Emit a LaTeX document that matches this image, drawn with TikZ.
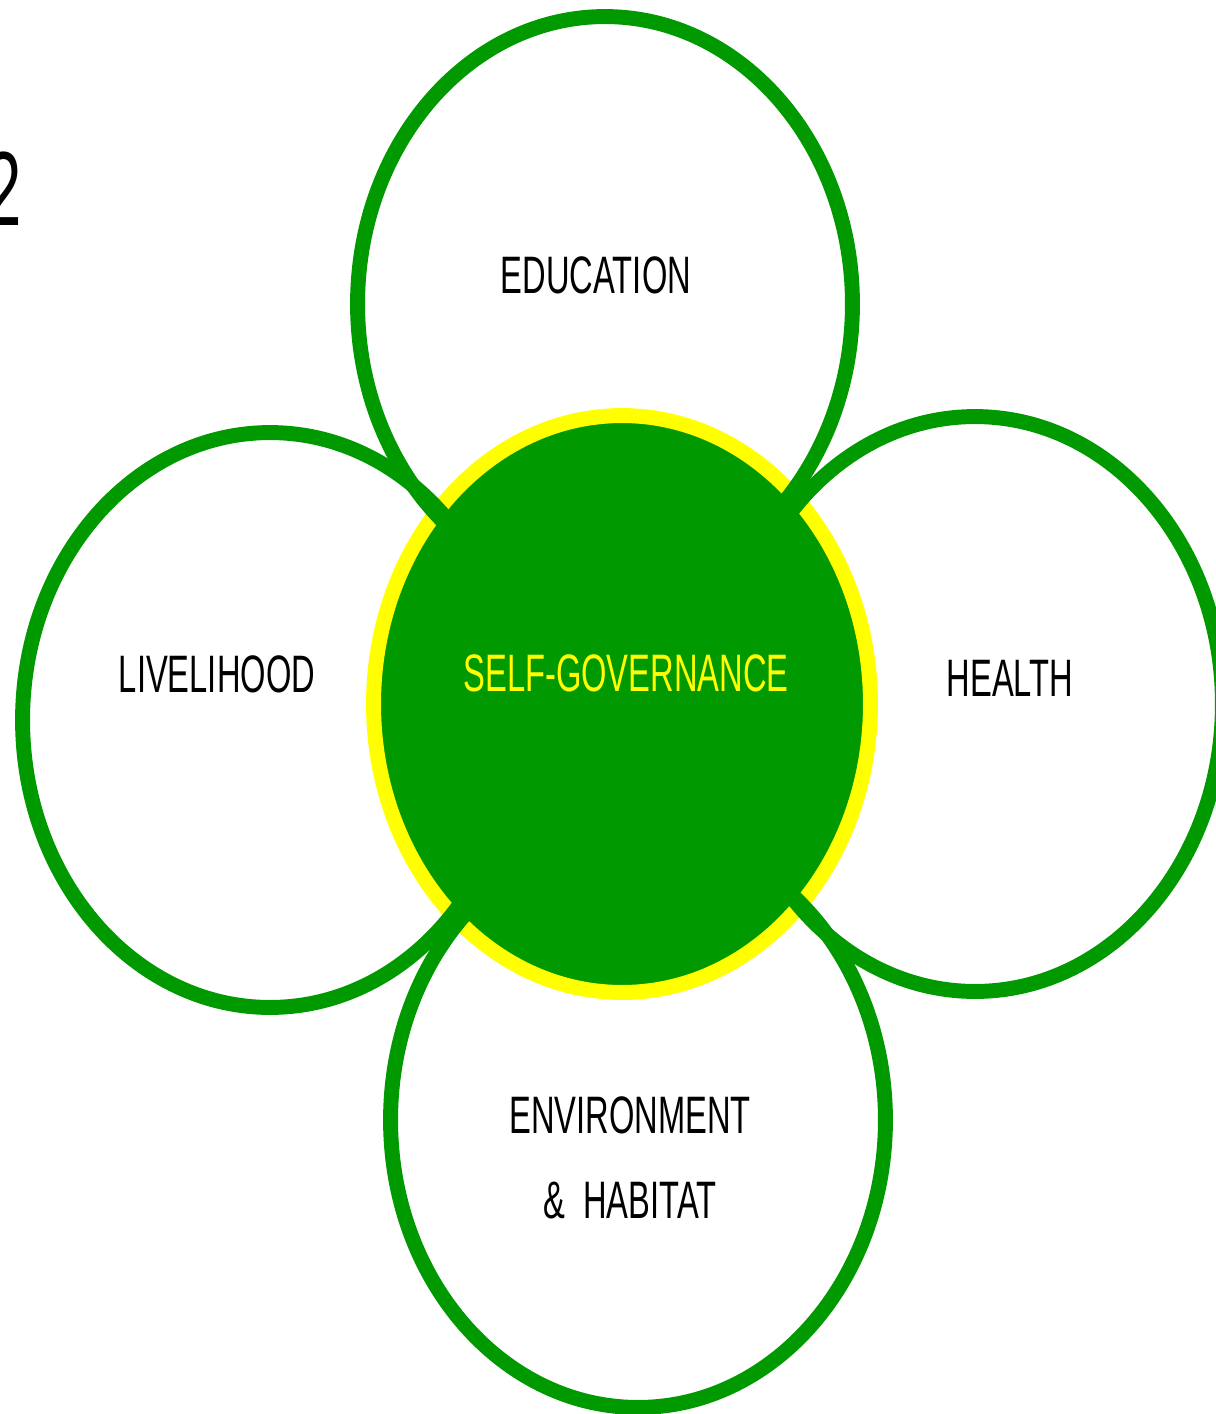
\documentclass[tikz,border=0pt]{standalone}
\usepackage{fontspec}
\setmainfont{Liberation Sans}[FakeStretch=0.62]
\usetikzlibrary{shapes.geometric}
\definecolor{leaf}{HTML}{009900}
\definecolor{sun}{HTML}{FFFF00}
\tikzset{
  petal/.style={ellipse,draw=leaf,line width=8.5pt,inner sep=0pt,
    minimum width=9.9cm,minimum height=11.5cm},
  hub/.style={ellipse,draw=sun,fill=leaf,line width=8.5pt,inner sep=0pt,
    minimum width=9.94cm,minimum height=11.54cm},
  lbl/.style={anchor=base,align=center,font=\fontsize{30}{48}\selectfont}
}
\begin{document}
\begin{tikzpicture}[x=0.02cm,y=-0.02cm]
  \useasboundingbox (0,0) rectangle (1216,1414);
  \node[hub] (self) at (622,704) {};
  \node[petal] (edu) at (605,304) {};
  \node[petal] (live) at (270,720) {};
  \node[petal] (heal) at (975,704) {};
  \node[petal] (env) at (638,1120) {};
  \node[lbl] (edutxt) at (596,293) {EDUCATION};
  \node[lbl] (livetxt) at (217,692) {LIVELIHOOD};
  \node[lbl,text=sun] (selftxt) at (626,691) {SELF-GOVERNANCE};
  \node[lbl] (healtxt) at (1010,696) {HEALTH};
  \node[lbl] (envtxt) at (630,1218) {ENVIRONMENT\\\&~~HABITAT};
  \node[anchor=base east,inner sep=0pt,font=\fontsize{60}{60}\selectfont] (num) at (22,225) {2};
\end{tikzpicture}
\end{document}
